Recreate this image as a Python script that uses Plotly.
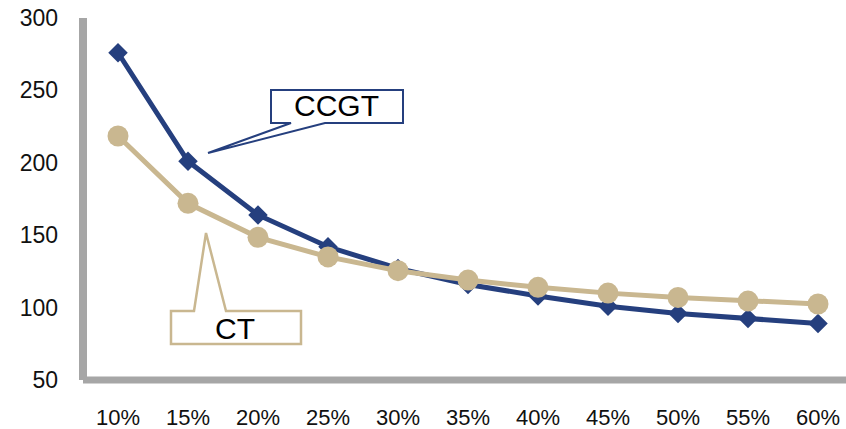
import plotly.graph_objects as go

# Capacity factor categories and levelised cost values per technology
capacity_factor = ["10%", "15%", "20%", "25%", "30%", "35%", "40%", "45%", "50%", "55%", "60%"]
ccgt_cost = [276, 201, 164, 142, 127, 116, 108, 101, 96, 92.5, 89]
ct_cost = [218.5, 172, 148.5, 135, 125.5, 119, 114, 110, 107, 104.5, 102.5]
y_ticks = [50, 100, 150, 200, 250, 300]

NAVY = "#253F7E"
TAN = "#C9B790"
AXIS_GREY = "#A6A6A6"

W, H = 846, 429
M_L, M_R, M_T, M_B = 83, 0, 18, 49
PW, PH = W - M_L - M_R, H - M_T - M_B


def fx(px):
    """Pixel x -> paper fraction."""
    return (px - M_L) / PW


def fy(py):
    """Pixel y -> paper fraction."""
    return (H - M_B - py) / PH


def callout_path(points):
    pts = [f"{fx(x):.5f},{fy(y):.5f}" for x, y in points]
    return "M " + " L ".join(pts) + " Z"


fig = go.Figure()

fig.add_trace(go.Scatter(
    x=capacity_factor, y=ccgt_cost, name="CCGT", mode="lines+markers",
    line=dict(color=NAVY, width=5),
    marker=dict(symbol="diamond", size=15, color=NAVY),
    cliponaxis=False,
))
fig.add_trace(go.Scatter(
    x=capacity_factor, y=ct_cost, name="CT", mode="lines+markers",
    line=dict(color=TAN, width=5),
    marker=dict(symbol="circle", size=21, color=TAN),
    cliponaxis=False,
))

shapes = [
    # axis lines
    dict(type="line", xref="paper", yref="paper", x0=0, x1=0, y0=0, y1=1,
         line=dict(color=AXIS_GREY, width=8), layer="below"),
    dict(type="line", xref="paper", yref="paper", x0=0, x1=1, y0=0, y1=0,
         line=dict(color=AXIS_GREY, width=7), layer="below"),
    # CCGT callout box with pointer
    dict(type="path", xref="paper", yref="paper",
         path=callout_path([(271, 90), (403, 90), (403, 123), (325, 123),
                            (208, 153), (291, 123), (271, 123)]),
         fillcolor="white", line=dict(color=NAVY, width=2), layer="above"),
    # CT callout box with pointer
    dict(type="path", xref="paper", yref="paper",
         path=callout_path([(171, 311), (194, 311), (206, 233), (226, 311),
                            (301, 311), (301, 344), (171, 344)]),
         fillcolor="white", line=dict(color=TAN, width=2.5), layer="above"),
]

annotations = [
    dict(text="CCGT", xref="paper", yref="paper", x=fx(336), y=fy(105),
         xanchor="center", yanchor="middle", showarrow=False,
         font=dict(family="Liberation Sans, Arial", size=30, color="black")),
    dict(text="CT", xref="paper", yref="paper", x=fx(235), y=fy(328),
         xanchor="center", yanchor="middle", showarrow=False,
         font=dict(family="Liberation Sans, Arial", size=30, color="black")),
]

fig.update_layout(
    width=W, height=H,
    margin=dict(l=M_L, r=M_R, t=M_T, b=M_B, pad=0),
    paper_bgcolor="white", plot_bgcolor="white",
    showlegend=False,
    shapes=shapes,
    annotations=annotations,
    font=dict(family="Liberation Sans, Arial", size=23, color="#111111"),
)
fig.update_xaxes(
    type="category", range=[-0.5, 10.4],
    showgrid=False, zeroline=False, showline=False,
    ticks="", ticklabelstandoff=22,
    tickfont=dict(size=22),
)
fig.update_yaxes(
    range=[50, 300], tickvals=y_ticks,
    showgrid=False, zeroline=False, showline=False,
    ticks="", ticklabelstandoff=24,
    tickfont=dict(size=23),
)

fig.write_html("out.html")
